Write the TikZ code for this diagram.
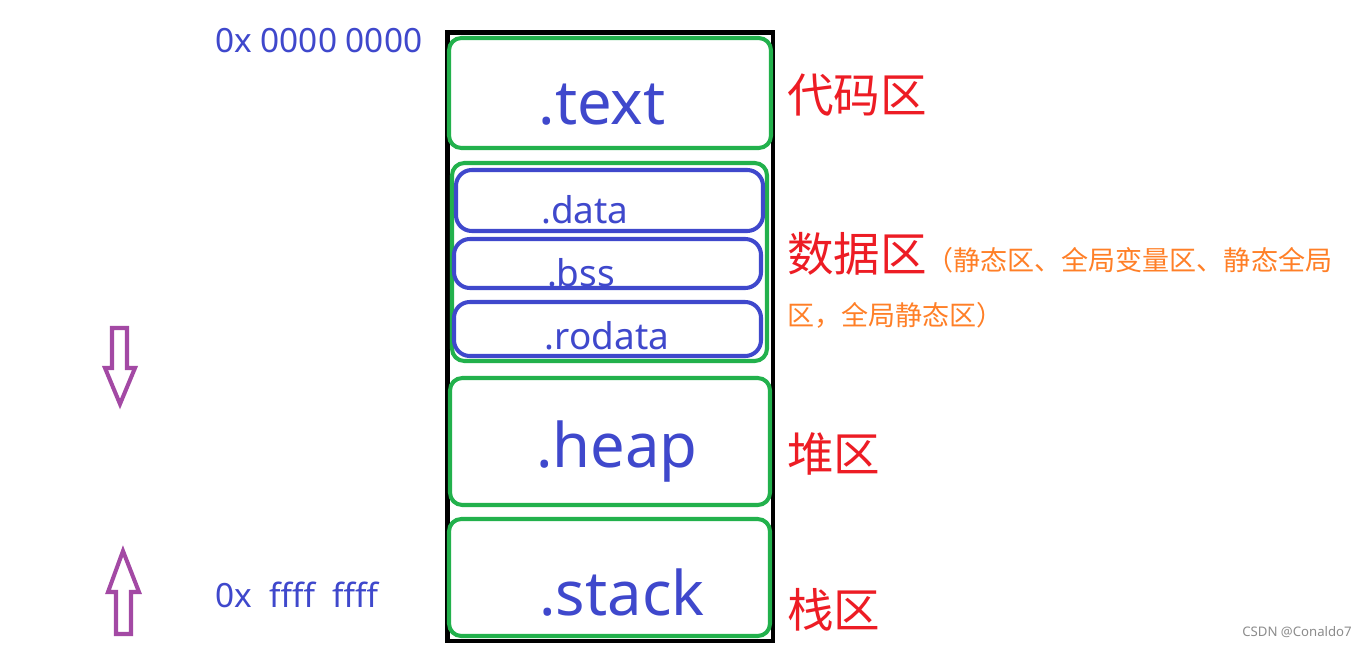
\documentclass[tikz,border=0pt]{standalone}
\usepackage{fontspec}
\setmainfont{Noto Sans}
\newfontfamily\cjk{Noto Sans CJK SC}
\definecolor{segblue}{HTML}{3F48CC}
\definecolor{seggreen}{HTML}{22B14C}
\definecolor{segred}{HTML}{ED1C24}
\definecolor{segorange}{HTML}{FF7F27}
\definecolor{segpurple}{HTML}{A349A4}
\begin{document}
\begin{tikzpicture}[x=0.02cm,y=-0.02cm,
	frame/.style={draw=black,line width=2.8pt},
	seg/.style={draw=seggreen,line width=2.3pt,rounded corners=7pt},
	subseg/.style={draw=segblue,line width=2.3pt,rounded corners=9pt},
	big/.style={text=segblue,font=\fontsize{35}{40}\selectfont,anchor=base,inner sep=0pt},
	small/.style={text=segblue,font=\fontsize{21}{24}\selectfont,anchor=base,inner sep=0pt},
	addr/.style={text=segblue,font=\fontsize{19}{22}\selectfont,anchor=base west,inner sep=0pt},
	area/.style={text=segred,font=\cjk\fontsize{26.5}{30}\selectfont,anchor=west,inner sep=0pt},
	note/.style={text=segorange,font=\cjk\fontsize{15.4}{18}\selectfont,anchor=west,inner sep=0pt},
	dir/.style={draw=segpurple,line width=2.3pt,line join=miter}]
	%%% Поле и рамки
	\fill[white] (0,0) rectangle (1368,645);
	
	% Внешняя рамка
	\draw[frame] (447.5,32.5) rectangle (773,641);
	
	% Сегменты
	\draw[seg] (449,38) rectangle (771,148);
	\draw[seg] (452,163) rectangle (767,361);
	\draw[seg] (450,378) rectangle (770,505);
	\draw[seg] (449,519) rectangle (770,636);
	
	\draw[subseg] (456,170) rectangle (763,231);
	\draw[subseg] (454,239) rectangle (761,288);
	\draw[subseg] (454,302) rectangle (761,356);
	\draw[segblue,line width=1.2pt,dotted] (556,230) -- (636,230);
	
	%%% Стрелки
	
	% Вниз
	\draw[dir] (112,328) -- (127,328) -- (127,368) -- (135,368) -- (120,404)
		-- (105,368) -- (112,368) -- cycle;
	% Вверх
	\draw[dir] (123,551) -- (139,592) -- (131,592) -- (131,634) -- (116,634)
		-- (116,592) -- (108,592) -- cycle;
	
	%%% Подписи
	
	\node[big] (text) at (602,125) {.text};
	\node[small] (data) at (585,223) {.data};
	\node[small] (bss) at (581,286) {.bss};
	\node[small] (rodata) at (607,349) {.rodata};
	\node[big] (heap) at (617,467) {.heap};
	\node[big] (stack) at (622,615) {.stack};
	
	\node[addr] (low) at (215,53) {0x 0000 0000};
	\node[addr] (high) at (215,607) {0x\ \ ffff\ \ ffff};
	
	\node[area] (code) at (787,95.5) {代码区};
	\node[area] (static) at (787,253.5) {数据区};
	\node[area] (heapname) at (787,453.5) {堆区};
	\node[area] (stackname) at (787,609.5) {栈区};
	\node[note] (alias) at (926,260) {（静态区、全局变量区、静态全局};
	\node[note] (aliasend) at (787,315) {区，全局静态区）};
	
	\node[text=black!45,font=\fontsize{7.5}{9}\selectfont,anchor=base east,inner sep=0pt] (mark) at (1352,636) {CSDN @Conaldo7};
\end{tikzpicture}
\end{document}
